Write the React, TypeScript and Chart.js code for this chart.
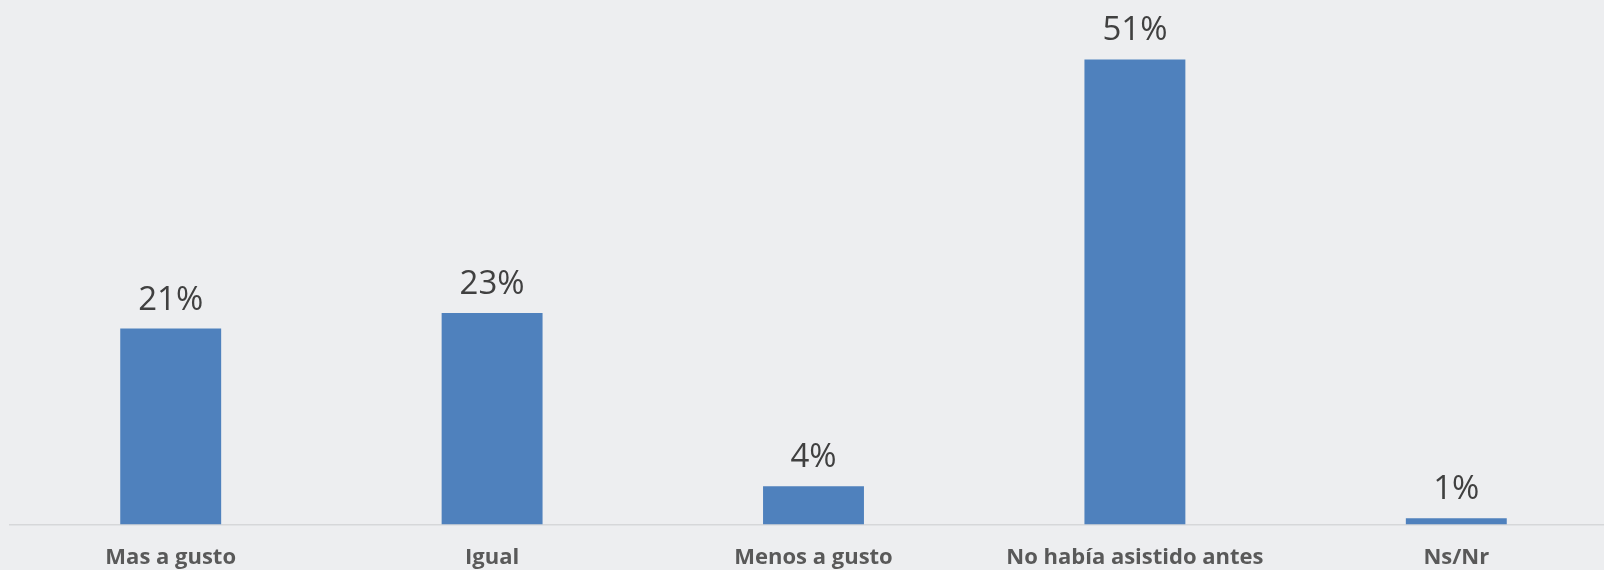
import React, { useEffect, useRef } from "react";
import { Chart, registerables } from "chart.js";

Chart.register(...registerables);

const categories: string[] = [
  "Mas a gusto",
  "Igual",
  "Menos a gusto",
  "No había asistido antes",
  "Ns/Nr",
];
const values: number[] = [21.5, 23.2, 4.2, 51.0, 0.7];
const valueLabels: string[] = ["21%", "23%", "4%", "51%", "1%"];

const BG = "#edeef0";
const BAR = "#4f81bd";

const dataLabelPlugin = {
  id: "dataLabels",
  afterDatasetsDraw(chart: any) {
    const ctx = chart.ctx;
    const meta = chart.getDatasetMeta(0);
    ctx.save();
    ctx.font = "33px 'Open Sans'";
    ctx.fillStyle = "#404040";
    ctx.textAlign = "center";
    ctx.textBaseline = "alphabetic";
    meta.data.forEach((bar: any, i: number) => {
      ctx.fillText(valueLabels[i], bar.x, bar.y - 19);
    });
    ctx.restore();
  },
};

export default function App() {
  const ref = useRef<HTMLCanvasElement | null>(null);
  useEffect(() => {
    if (!ref.current) return;
    const chart = new Chart(ref.current, {
      type: "bar",
      data: {
        labels: categories,
        datasets: [
          {
            data: values,
            backgroundColor: BAR,
            borderWidth: 0,
            barPercentage: 1,
            categoryPercentage: 0.314,
          },
        ],
      },
      options: {
        responsive: false,
        animation: false,
        layout: { padding: { left: 10, right: 3, top: 23, bottom: 0 } },
        plugins: {
          legend: { display: false },
          tooltip: { enabled: false },
        },
        scales: {
          x: {
            grid: { display: false, drawTicks: false },
            border: { display: true, color: "#d6d7d9", width: 1.5 },
            ticks: {
              color: "#595959",
              font: { family: "'Open Sans'", size: 22, weight: "bold" },
              padding: 20,
              maxRotation: 0,
              autoSkip: false,
            },
          },
          y: {
            display: false,
            min: 0,
            max: 55,
          },
        },
      },
      plugins: [dataLabelPlugin],
    });
    return () => chart.destroy();
  }, []);
  return (
    <div
      style={{
        position: "absolute",
        left: 0,
        top: 0,
        width: 1604,
        height: 570,
        overflow: "hidden",
        background: BG,
      }}
    >
      <canvas ref={ref} width={1620} height={591} style={{ display: "block" }} />
    </div>
  );
}
